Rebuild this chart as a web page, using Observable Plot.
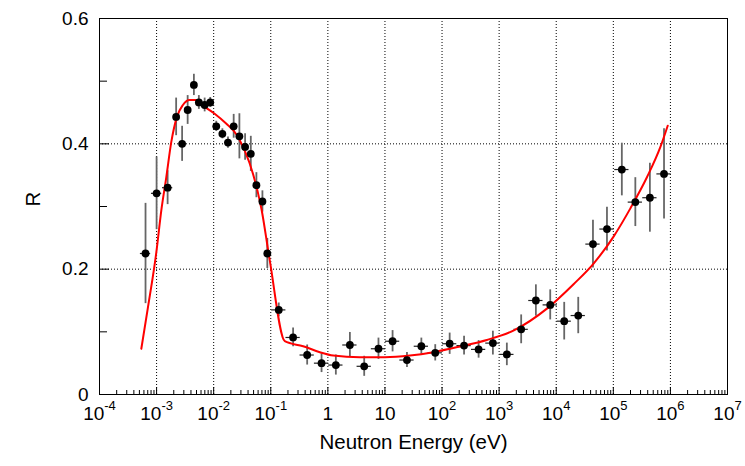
<!DOCTYPE html>
<html><head><meta charset="utf-8">
<script src="https://cdn.jsdelivr.net/npm/d3@7"></script>
<script src="https://cdn.jsdelivr.net/npm/@observablehq/plot@0.6"></script>
<style>html,body{margin:0;padding:0;background:#fff;}#chart{width:745px;height:466px;}</style>
</head><body><div id="chart"></div>
<script>
// ---- Measured data (neutron energy in eV, ratio R) ----
const energy = [6.4e-4, 1.0e-3, 1.56e-3, 2.2e-3, 2.8e-3, 3.5e-3, 4.5e-3, 5.5e-3, 6.95e-3, 8.7e-3,
  0.0111, 0.0142, 0.0178, 0.0224, 0.0282, 0.0355, 0.0447, 0.056, 0.0714, 0.087,
  0.138, 0.246, 0.434, 0.775, 1.38, 2.43, 4.33, 7.7, 13.6, 24.3,
  43.4, 76, 136, 243, 437, 777, 1365, 2432, 4400, 7850,
  13800, 24300, 44000, 77400, 141000, 243000, 437000, 773000];
const ratio = [0.225, 0.321, 0.330, 0.443, 0.400, 0.454, 0.494, 0.466, 0.462, 0.466,
  0.428, 0.416, 0.402, 0.428, 0.412, 0.395, 0.384, 0.334, 0.308, 0.225,
  0.135, 0.091, 0.063, 0.050, 0.047, 0.079, 0.045, 0.073, 0.085, 0.055,
  0.077, 0.0665, 0.081, 0.078, 0.072, 0.082, 0.064, 0.104, 0.150, 0.143,
  0.117, 0.126, 0.240, 0.264, 0.359, 0.307, 0.314, 0.352];
const ratioErr = [0.080, 0.058, 0.027, 0.030, 0.028, 0.023, 0.017, 0.011, 0.011, 0.008,
  0.008, 0.008, 0.009, 0.019, 0.036, 0.021, 0.028, 0.020, 0.017, 0.024,
  0.011, 0.015, 0.016, 0.015, 0.016, 0.020, 0.016, 0.017, 0.017, 0.012,
  0.013, 0.013, 0.017, 0.015, 0.014, 0.019, 0.018, 0.023, 0.025, 0.024,
  0.030, 0.029, 0.038, 0.035, 0.042, 0.039, 0.055, 0.072];
// half bin width in decades
const binHalfDecades = [0.09, 0.09, 0.09, 0.05, 0.05, 0.05, 0.05, 0.05, 0.05, 0.05,
  0.05, 0.05, 0.05, 0.05, 0.05, 0.05, 0.05, 0.05, 0.05, 0.05,
  0.125, 0.125, 0.125, 0.125, 0.125, 0.125, 0.125, 0.125, 0.125, 0.125,
  0.125, 0.125, 0.125, 0.125, 0.125, 0.125, 0.125, 0.125, 0.125, 0.125,
  0.125, 0.125, 0.125, 0.125, 0.125, 0.125, 0.125, 0.125];

// ---- Fit curve (red) ----
const fitEnergy = [5.4e-4, 7.0e-4, 9.9e-4, 1.21e-3, 1.48e-3, 1.81e-3, 2.27e-3, 2.89e-3, 3.79e-3, 4.83e-3,
  6.95e-3, 0.0104, 0.0167, 0.025, 0.035, 0.0489, 0.0687, 0.096, 0.176, 0.369,
  0.724, 1.24, 3.64, 10, 27.5, 70.3, 207, 608, 1780, 6870,
  20100, 45100, 101000, 199000, 390000, 668000, 898000];
const fitRatio = [0.073, 0.137, 0.227, 0.294, 0.347, 0.403, 0.443, 0.462, 0.470, 0.470,
  0.459, 0.448, 0.432, 0.415, 0.389, 0.352, 0.296, 0.214, 0.085, 0.077,
  0.0675, 0.0622, 0.0596, 0.0596, 0.0622, 0.0675, 0.0766, 0.087, 0.102, 0.137,
  0.176, 0.209, 0.252, 0.297, 0.347, 0.395, 0.429];

// ---- Axis ticks / labels ----
const xTickValues = [1e-4, 1e-3, 1e-2, 1e-1, 1, 10, 1e2, 1e3, 1e4, 1e5, 1e6, 1e7];
const xTickBase = ["10", "10", "10", "10", "1", "10", "10", "10", "10", "10", "10", "10"];
const xTickExp = ["-4", "-3", "-2", "-1", "", "", "2", "3", "4", "5", "6", "7"];
const yTickValues = [0, 0.2, 0.4, 0.6];
const yTickLabels = ["0", "0.2", "0.4", "0.6"];
const yMinorValues = [0.1, 0.3, 0.5];
const xGrid = [1e-3, 1e-2, 1e-1, 1, 10, 1e2, 1e3, 1e4, 1e5, 1e6];
const yGrid = [0.2, 0.4];
const xTitle = "Neutron Energy (eV)";
const yTitle = "R";

// ---- Layout ----
const W = 745, H = 466, mL = 99, mR = 18, mT = 18, mB = 72;
const plotW = W - mL - mR, plotH = H - mT - mB;
const font = "'Liberation Sans', Arial, Helvetica, sans-serif";
const fsTick = 19, fsExp = 13, fsTitle = 20.5;

const pts = energy.map((e, i) => ({
  e, r: ratio[i], lo: ratio[i] - ratioErr[i], hi: ratio[i] + ratioErr[i],
  x1: e * Math.pow(10, -binHalfDecades[i]), x2: e * Math.pow(10, binHalfDecades[i])
}));
const fit = fitEnergy.map((e, i) => ({e, r: fitRatio[i]}));

const minorX = [];
for (let d = -4; d < 7; d++) for (let k = 2; k <= 9; k++) minorX.push(k * Math.pow(10, d));

const glyphW = s => [...s].reduce((a, c) => a + (c === "-" ? 0.333 : 0.556), 0);

const labelMarks = xTickValues.flatMap((v, i) => {
  const b = xTickBase[i], ex = xTickExp[i];
  const bw = glyphW(b) * fsTick, ew = ex ? glyphW(ex) * fsExp : 0;
  const joint = (bw - ew) / 2;
  const marks = [Plot.text([v], {x: d => d, text: () => b, frameAnchor: "bottom",
    textAnchor: ex ? "end" : "middle", dx: ex ? joint : 0, lineAnchor: "top", dy: 12, fontSize: fsTick})];
  if (ex) marks.push(Plot.text([v], {x: d => d, text: () => ex, frameAnchor: "bottom",
    textAnchor: "start", dx: joint, lineAnchor: "top", dy: 6, fontSize: fsExp}));
  return marks;
});

const chart = Plot.plot({
  width: W, height: H, marginLeft: mL, marginRight: mR, marginTop: mT, marginBottom: mB,
  x: {type: "log", domain: [1e-4, 1e7], axis: null},
  y: {domain: [0, 0.6], axis: null},
  style: {fontFamily: font, background: "white", color: "black"},
  marks: [
    Plot.ruleX(xGrid, {x: d => d, stroke: "black", strokeWidth: 1, strokeDasharray: "1,2"}),
    Plot.ruleY(yGrid, {y: d => d, stroke: "black", strokeWidth: 1, strokeDasharray: "1,2"}),
    Plot.tickX(xTickValues, {x: d => d, insetTop: plotH - 7, stroke: "black"}),
    Plot.tickX(minorX, {x: d => d, insetTop: plotH - 4, stroke: "black"}),
    Plot.tickY(yTickValues, {y: d => d, insetRight: plotW - 10, stroke: "black"}),
    Plot.tickY(yMinorValues, {y: d => d, insetRight: plotW - 8, stroke: "black"}),
    Plot.frame({stroke: "black", strokeWidth: 1}),
    Plot.ruleX(pts, {x: "e", y1: "lo", y2: "hi", stroke: "#666", strokeWidth: 1.8}),
    Plot.ruleY(pts, {y: "r", x1: "x1", x2: "x2", stroke: "#222", strokeWidth: 1.2}),
    Plot.line(fit, {x: "e", y: "r", stroke: "#ff0000", strokeWidth: 2, curve: "monotone-x"}),
    Plot.dot(pts, {x: "e", y: "r", r: 3.9, fill: "black", stroke: "none"}),
    Plot.text(yTickValues, {y: d => d, text: (d, i) => yTickLabels[i], frameAnchor: "left",
      textAnchor: "end", dx: -11, fontSize: fsTick}),
    ...labelMarks,
    Plot.text([xTitle], {text: d => d, frameAnchor: "bottom", dy: 54, fontSize: fsTitle}),
    Plot.text([yTitle], {text: d => d, frameAnchor: "left", dx: -66, rotate: -90, fontSize: fsTitle})
  ]
});
document.getElementById("chart").appendChild(chart);
</script>
</body></html>
